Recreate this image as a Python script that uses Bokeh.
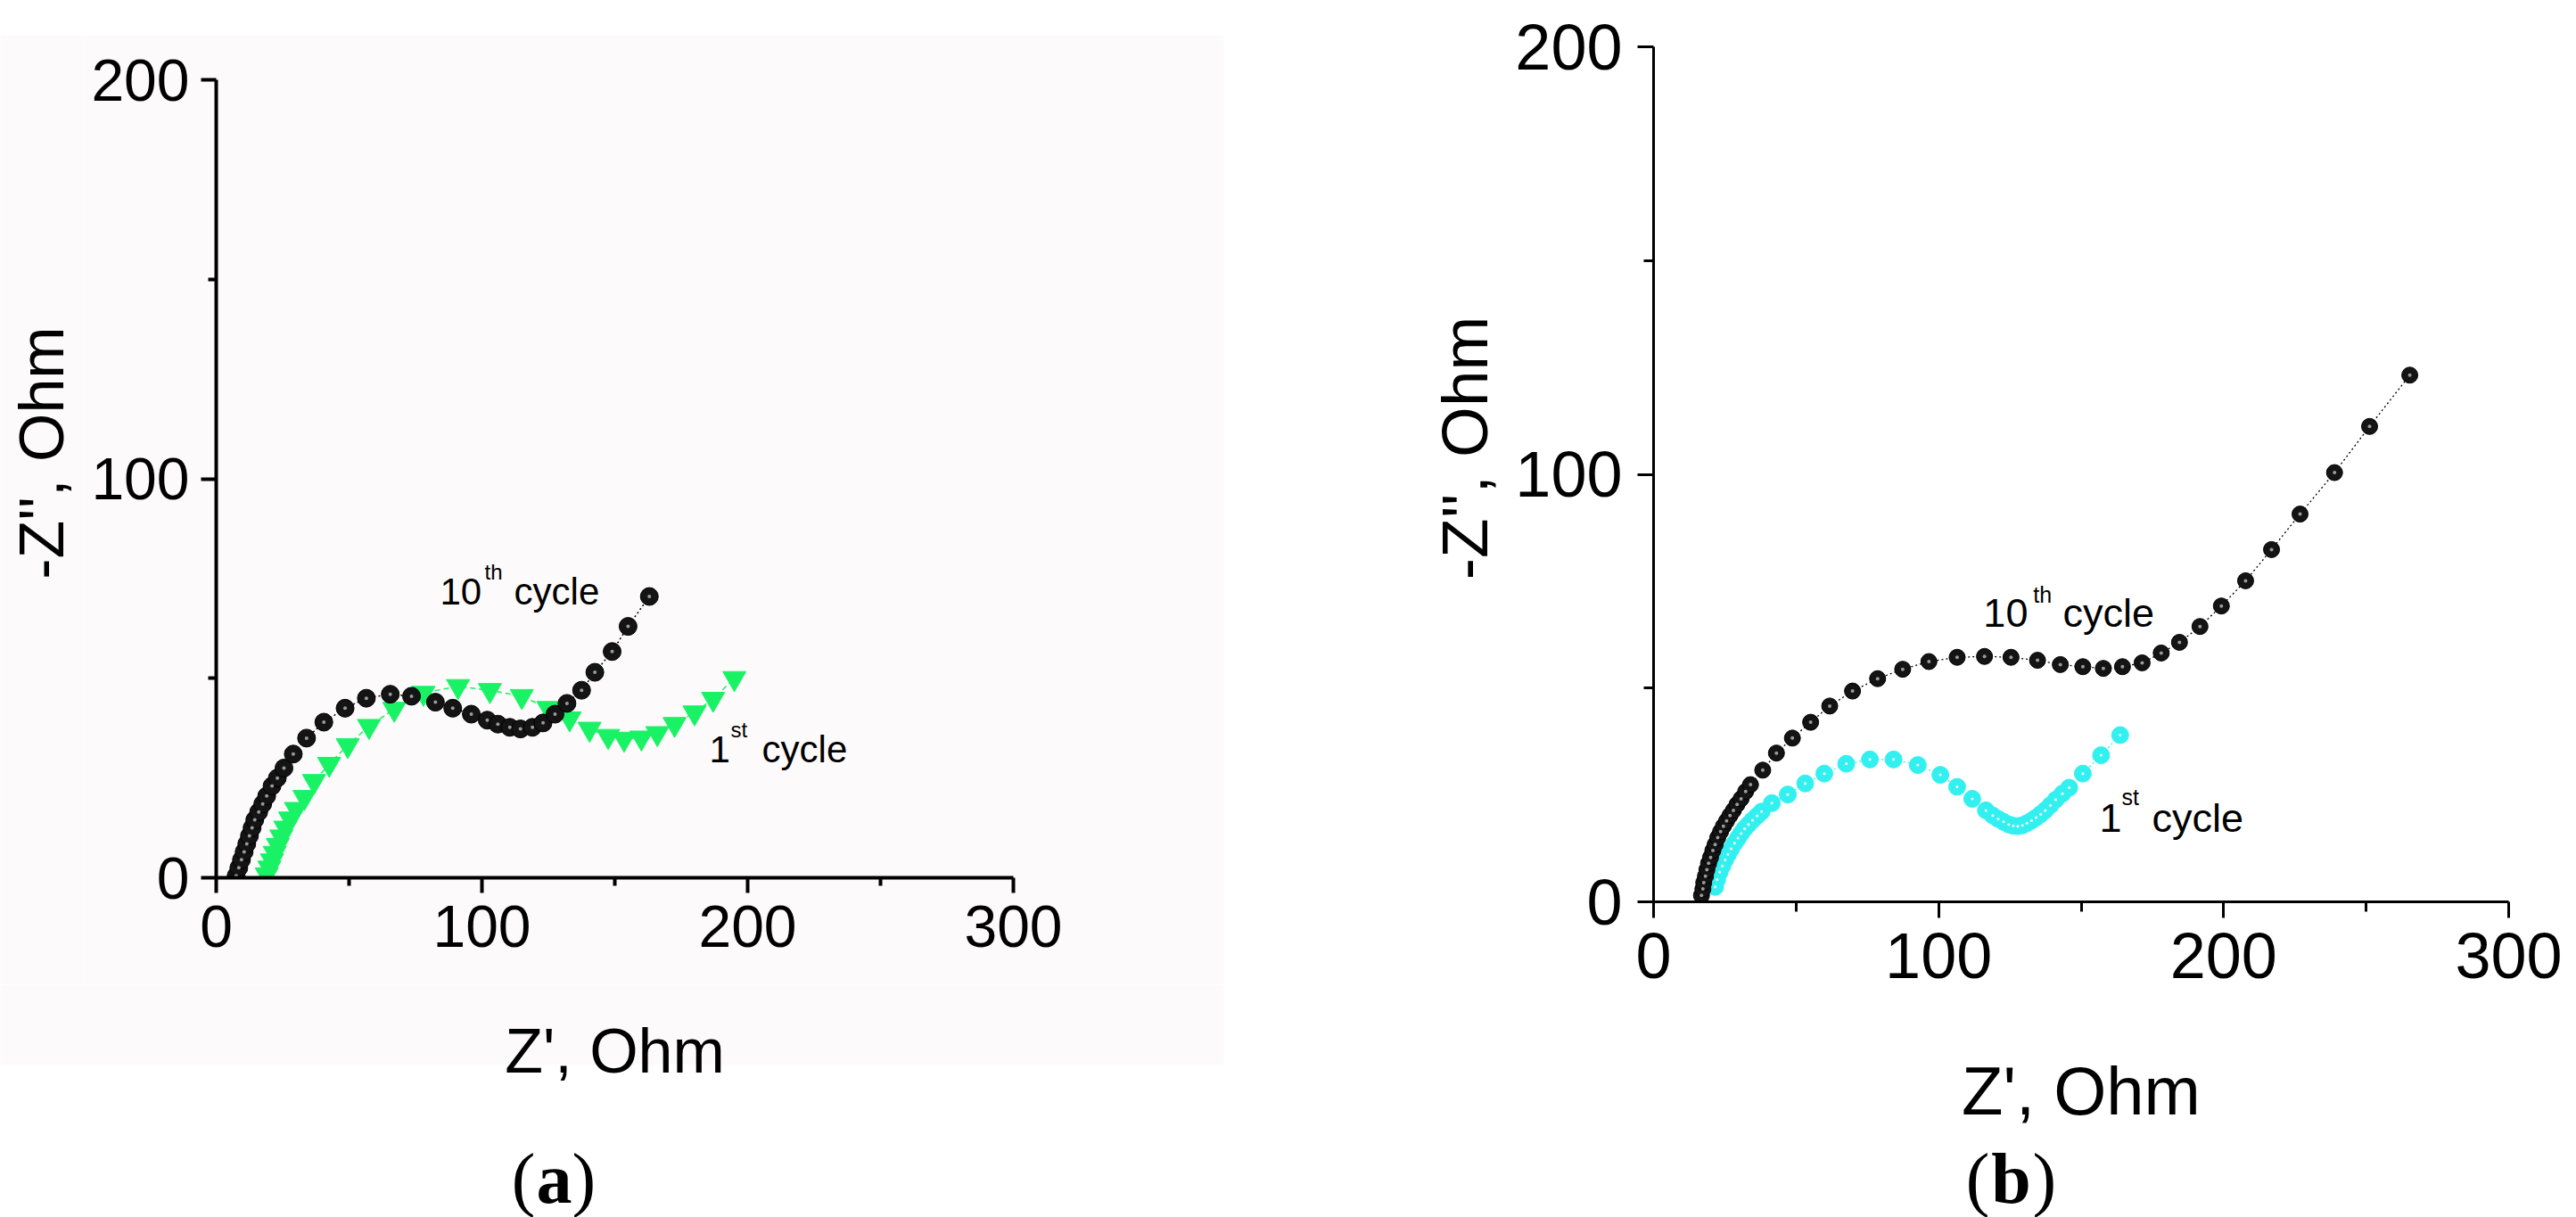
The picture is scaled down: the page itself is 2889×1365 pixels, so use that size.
import math
from bokeh.plotting import figure
from bokeh.models import Range1d, FixedTicker, Label, Spacer
from bokeh.layouts import row, column
from bokeh.embed import file_html
from bokeh.resources import INLINE

# ---------------- data ----------------
# panel (a): 10th cycle (black spheres)
a10_x = [7.5, 8.5, 9.5, 10.5, 11.5, 12.5, 13.5, 14.5, 16, 17.5, 19, 21, 23, 25.5, 29, 34,
         40.5, 48.5, 56.5, 65.5, 73.5, 82.5, 89, 96, 102, 106, 110.5, 114.5, 119, 123,
         127.5, 132, 137.5, 142.5, 149, 155, 163]
a10_y = [0.5, 2.5, 4.5, 6.5, 8.5, 10.5, 12.5, 14.5, 16.5, 18.5, 20.5, 23, 25, 27.5, 31, 35,
         39, 42.5, 45, 46, 45.5, 44, 42.5, 41, 39.5, 38.5, 37.7, 37.3, 37.7, 38.8,
         41, 43.7, 47, 51.5, 56.7, 63, 70.5]
# panel (a): 1st cycle (green triangles)
a1_x = [19, 20, 21, 22, 23.2, 24.5, 26, 27.8, 30, 33.2, 36.8, 42.5, 49.5, 57.5, 67, 78,
        91, 103, 115, 125, 133, 140.5, 147.5, 153.5, 160, 166, 172.5, 180, 187, 195]
a1_y = [0.8, 2.5, 4.3, 6.2, 8.2, 10.3, 12.5, 14.8, 17.2, 20.2, 24.2, 28.5, 33.2, 38, 42.3, 46.3,
        48, 47, 45.5, 42.5, 39.9, 37.3, 35.5, 34.8, 35.1, 36.2, 38.5, 41.4, 44.8, 50]
# panel (b): 10th cycle (black spheres)
b10_x = [16.8, 17.3, 17.6, 18.2, 18.7, 19.3, 20, 20.8, 21.6, 22.5, 23.5, 24.5, 25.6, 26.8,
         28, 29.3, 30.7, 32.3, 34, 38.3, 43.1, 48.7, 55.1, 61.8, 69.8, 78.6, 87.4, 96.6,
         106.5, 116.1, 125.4, 134.7, 142.7, 150.6, 157.8, 164.5, 171.4, 178.1, 184.5,
         191.7, 199.2, 207.7, 216.8, 226.8, 238.9, 251.2, 265.3]
b10_y = [1.5, 3, 4.5, 6, 7.5, 9, 10.4, 12, 13.4, 15, 16.4, 17.7, 18.9, 20.2,
         21.4, 22.8, 24.1, 25.8, 27.4, 30.8, 34.8, 38.3, 42, 45.8, 49.3, 52.2, 54.4, 56.2,
         57.2, 57.4, 57.2, 56.5, 55.5, 55, 54.6, 55, 55.9, 58.2, 60.7,
         64.4, 69.2, 75.1, 82.4, 90.7, 100.4, 111.2, 123.2]
# panel (b): 1st cycle (cyan spheres)
b1_x = [21.6, 22.3, 23.2, 24.1, 25.1, 26.1, 27.2, 28.4, 29.6, 30.7, 31.9, 33.3, 34.7, 36.3,
        37.9, 41.5, 47.1, 53.2, 59.9, 67.6, 75.9, 84.2, 92.7, 100.6, 106.5, 111.8, 116.6,
        119, 120.9, 122.8, 124.6, 126.2, 127.8, 129.4, 131, 132.6, 134.2, 135.8, 137.4,
        139.2, 141.1, 143.4, 145.8, 150.6, 157, 163.7]
b1_y = [3.5, 5.2, 7, 8.4, 9.8, 11.1, 12.4, 13.7, 14.9, 16, 17.1, 18.1, 19.1, 20.1,
        21.1, 23.1, 25.1, 27.7, 30, 32.3, 33.3, 33.3, 32, 29.7, 26.9, 24.1, 21.4,
        20.2, 19.4, 18.7, 18.1, 17.8, 17.7, 17.9, 18.4, 19, 19.7, 20.5, 21.4,
        22.6, 23.9, 25.3, 26.7, 30, 34.3, 39]

x_ticks = [0, 100, 200, 300]
x_minor = [50, 150, 250]
y_ticks = [0, 100, 200]
y_minor = [50, 150]

x_title = "Z', Ohm"
y_title = "-Z'', Ohm"

SANS = "Liberation Sans"
SERIF = "Liberation Serif"
GREEN = "#1af266"
CYAN = "#33f0f0"
TINT = "#fcfafa"


def make_fig(width, height, left, right, top, bottom, bg, tick_size, axis_w,
             tick_out, minor_out, xstand, ystand):
    p = figure(width=width, height=height, x_range=Range1d(0, 300), y_range=Range1d(0, 200),
               output_backend="svg", toolbar_location=None,
               min_border_left=left, min_border_right=right,
               min_border_top=top, min_border_bottom=bottom)
    p.background_fill_color = bg
    p.border_fill_color = bg
    p.outline_line_color = None
    p.xgrid.visible = False
    p.ygrid.visible = False
    p.xaxis.ticker = FixedTicker(ticks=x_ticks, minor_ticks=x_minor)
    p.yaxis.ticker = FixedTicker(ticks=y_ticks, minor_ticks=y_minor)
    for ax, st in ((p.xaxis, xstand), (p.yaxis, ystand)):
        ax.axis_line_width = axis_w
        ax.axis_line_color = "black"
        ax.major_tick_line_width = axis_w
        ax.minor_tick_line_width = axis_w
        ax.major_tick_line_color = "black"
        ax.minor_tick_line_color = "black"
        ax.major_tick_in = 0
        ax.major_tick_out = tick_out
        ax.minor_tick_in = 0
        ax.minor_tick_out = minor_out
        ax.major_label_text_font = SANS
        ax.major_label_text_font_size = f"{tick_size}px"
        ax.major_label_text_color = "black"
        ax.major_label_standoff = st
    return p


def canvas(width, height, bg="white"):
    """A plain text-holding figure whose data units are pixels (y measured upwards)."""
    c = figure(width=width, height=height, x_range=Range1d(0, width), y_range=Range1d(0, height),
               output_backend="svg", toolbar_location=None, x_axis_type=None, y_axis_type=None,
               min_border_left=0, min_border_right=0, min_border_top=0, min_border_bottom=0)
    c.outline_line_color = None
    c.xgrid.visible = False
    c.ygrid.visible = False
    c.background_fill_color = bg
    c.border_fill_color = bg
    return c


def lab(p, x, y, s, size, font=SANS, style="normal", align="left", angle=0.0,
        baseline="alphabetic"):
    p.add_layout(Label(x=x, y=y, text=s, text_font=font, text_font_size=f"{size}px",
                       text_font_style=style, text_align=align, text_baseline=baseline,
                       angle=angle, text_color="black"))


# ---------------- panel (a) ----------------
# page rows: spacer 0-39, plot 39-1104, bottom strip 1104-1365
pa = make_fig(1277, 1065, 147, 236, 50, 120, TINT, 66, 4, 17, 9, 14, 13)
pa.line(a10_x, a10_y, line_color="black", line_width=1.5, line_dash="2 3")
pa.line(a1_x, a1_y, line_color=GREEN, line_width=1.5, line_dash="6 4")
pa.scatter(a1_x, a1_y, marker="inverted_triangle", size=26, fill_color=GREEN, line_color=GREEN)
pa.scatter(a10_x, a10_y, marker="circle", size=20, fill_color="#141414", line_color="#000000")
pa.scatter(a10_x, a10_y, marker="circle", size=4, fill_color="#9a9a9a", line_color=None)

lab(pa, 84.2, 71.7, "10", 42)
lab(pa, 101.0, 76.6, "th", 24)
lab(pa, 112.1, 71.7, "cycle", 42)
lab(pa, 185.6, 32.2, "1", 42)
lab(pa, 193.6, 37.1, "st", 24)
lab(pa, 205.4, 32.2, "cycle", 42)

ya = canvas(95, 1065, TINT)
lab(ya, 46.5, 1065 - 498, y_title, 70, align="center", angle=math.pi / 2, baseline="middle")

bot_a = canvas(1372, 261)
bot_a.quad(left=[0], right=[1372], top=[261], bottom=[261 - 89], fill_color=TINT, line_color=None)
lab(bot_a, 689, 261 - 74, x_title, 70, align="center")
lab(bot_a, 600, 261 - 217, "(", 80, font=SERIF, align="right")
lab(bot_a, 621, 261 - 217, "a", 80, font=SERIF, style="bold", align="center")
lab(bot_a, 641, 261 - 217, ")", 80, font=SERIF, align="left")

left_col = column(Spacer(width=1372, height=39), row(ya, pa, spacing=0), bot_a, spacing=0)

# ---------------- panel (b) ----------------
# page rows: plot 0-1136, bottom strip 1136-1365
pb = make_fig(1197, 1136, 162, 76, 52, 125, "white", 72, 3, 18, 11, 17, 17)
pb.line(b10_x, b10_y, line_color="black", line_width=1.3, line_dash="2 3")
pb.line(b1_x, b1_y, line_color=CYAN, line_width=1.3, line_dash="2 3")
pb.scatter(b1_x, b1_y, marker="circle", size=19, fill_color=CYAN, line_color=CYAN)
pb.scatter(b1_x, b1_y, marker="circle", size=3, fill_color="white", line_color=None)
pb.scatter(b10_x, b10_y, marker="circle", size=18, fill_color="#141414", line_color="#000000")
pb.scatter(b10_x, b10_y, marker="circle", size=4, fill_color="#9a9a9a", line_color=None)

lab(pb, 115.7, 67.6, "10", 45)
lab(pb, 133.2, 71.9, "th", 25)
lab(pb, 143.6, 67.6, "cycle", 45)
lab(pb, 156.4, 19.6, "1", 45)
lab(pb, 164.2, 24.6, "st", 25)
lab(pb, 174.9, 19.6, "cycle", 45)

yb = canvas(320, 1136)
lab(yb, 269.5, 1136 - 533, y_title, 73, align="center", angle=math.pi / 2, baseline="middle")

bot_b = canvas(1517, 229)
lab(bot_b, 961.5, 229 - 87, x_title, 76, align="center")
lab(bot_b, 859, 229 - 185, "(", 80, font=SERIF, align="right")
lab(bot_b, 883, 229 - 185, "b", 80, font=SERIF, style="bold", align="center")
lab(bot_b, 907, 229 - 185, ")", 80, font=SERIF, align="left")

right_col = column(row(yb, pb, spacing=0), bot_b, spacing=0)

layout = row(left_col, right_col, spacing=0)
open("out.html", "w").write(file_html(layout, INLINE))
